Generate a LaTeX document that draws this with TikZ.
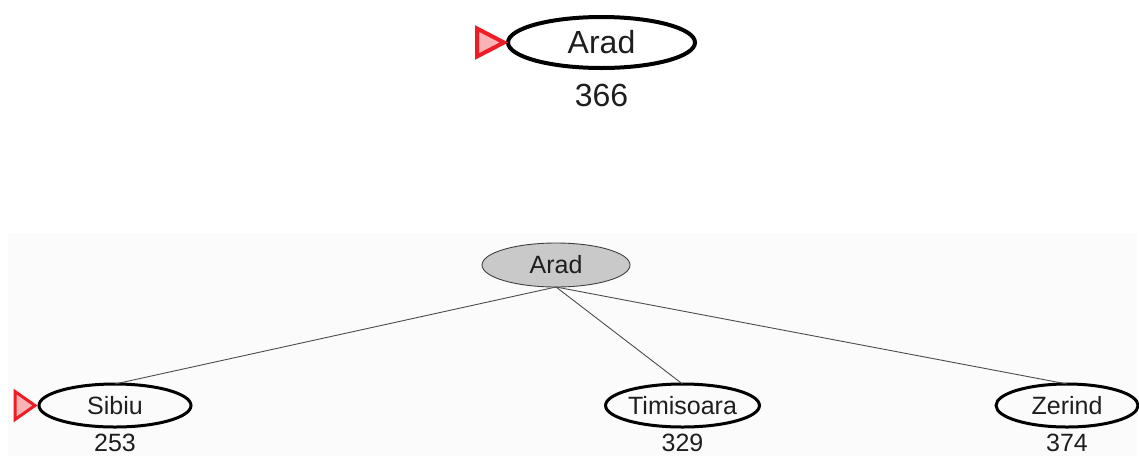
\documentclass[tikz,border=0pt]{standalone}
\usepackage{fontspec}
\setmainfont{Liberation Sans}
\usetikzlibrary{positioning,shapes.geometric}
\definecolor{markred}{HTML}{EE1C24}
\definecolor{markpink}{HTML}{F7B3B6}
\definecolor{panelg}{HTML}{FBFBFB}
\definecolor{expg}{HTML}{C9C9C9}
\definecolor{txtg}{HTML}{1E1E1E}
\tikzset{
  city/.style={draw, ellipse, inner sep=0pt, outer sep=0pt, line width=3pt, text=txtg, font=\fontsize{25}{27}\selectfont},
  bigcity/.style={city, line width=4pt, font=\fontsize{32}{34}\selectfont},
  expanded/.style={city, fill=expg, draw=black!75, line width=0.9pt},
  hval/.style={inner sep=0pt, outer sep=0pt, text=txtg, font=\fontsize{25}{27}\selectfont},
  bighval/.style={hval, font=\fontsize{32}{34}\selectfont},
  marker/.style={draw=markred, fill=markpink, line width=3pt},
  edge/.style={draw=black!70, line width=0.9pt},
}

\begin{document}
\begin{tikzpicture}[x=1pt, y=-1pt]
  \useasboundingbox (0,0) rectangle (1139,456);
  \fill[panelg] (8,233) rectangle (1137,456);

  % ---- (a) initial state ----
  \node[bigcity, minimum width=187, minimum height=51] (root) at (601.5,42.5) {Arad};
  \node[bighval, below=16pt of root] (h366) {366};
  \draw[marker, line width=4pt] ([xshift=-4]root.west) -- ++(-27,-14) -- ++(0,28) -- cycle;

  % ---- (b) after expanding Arad ----
  \node[expanded, minimum width=148, minimum height=44] (arad) at (556,265) {Arad};
  \node[city, minimum width=152, minimum height=43] (sibiu) at (115,405.5) {Sibiu};
  \node[city, minimum width=148, minimum height=43] (timisoara) at (682.5,405.5) {Timisoara};
  \node[city, minimum width=142, minimum height=43] (zerind) at (1067,405.5) {Zerind};
  \node[hval, below=7pt of sibiu] (h253) {253};
  \node[hval, below=7pt of timisoara] (h329) {329};
  \node[hval, below=7pt of zerind] (h374) {374};
  \foreach \c in {sibiu,timisoara,zerind} \draw[edge] (arad.south) -- (\c.north);
  \draw[marker] ([xshift=-4]sibiu.west) -- ++(-20,-14) -- ++(0,28) -- cycle;
\end{tikzpicture}
\end{document}
